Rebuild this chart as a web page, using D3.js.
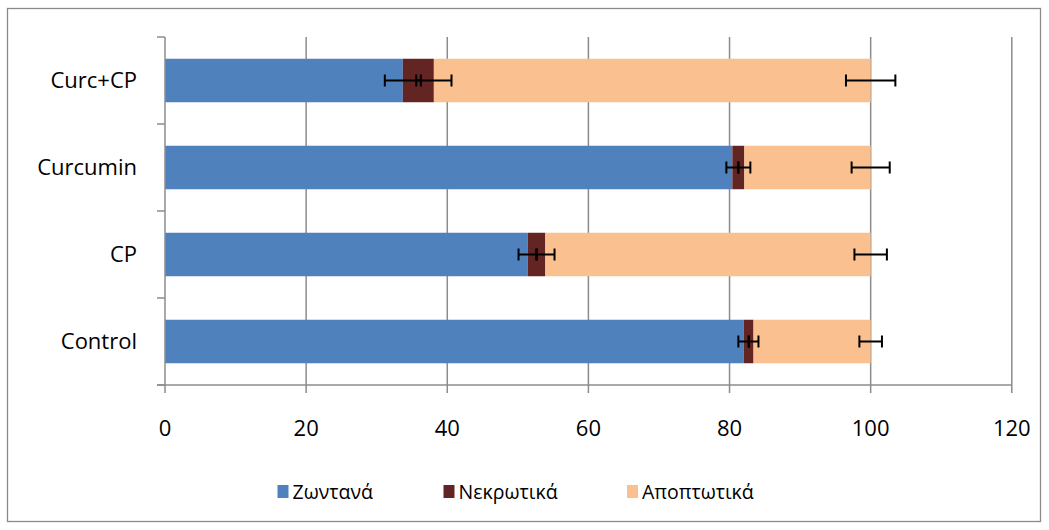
<!DOCTYPE html>
<html>
<head>
<meta charset="utf-8">
<script src="https://cdn.jsdelivr.net/npm/d3@7"></script>
<style>
  html, body { margin: 0; padding: 0; background: #fff; }
  svg { display: block; }
  text { font-family: "Open Sans", "Noto Sans", sans-serif; fill: #000; }
</style>
</head>
<body>
<svg id="chart" width="1049" height="530"></svg>
<script>
// Treatment groups, bottom to top
const categories = ["Control", "CP", "Curcumin", "Curc+CP"];
const seriesNames = ["Ζωντανά", "Νεκρωτικά", "Αποπτωτικά"];
const seriesColors = ["#4F81BD", "#632523", "#FAC090"];

// Percentages of cells per group
const live      = [82.0, 51.4, 80.4, 33.7];
const necrotic  = [1.4,  2.5,  1.7,  4.4];
const apoptotic = [16.6, 46.1, 17.9, 61.9];

// Standard deviations
const liveErr      = [0.75, 1.3, 0.85, 2.55];
const necroticErr  = [0.7,  1.3, 0.85, 2.5];
const apoptoticErr = [1.6,  2.3, 2.7,  3.5];

const xTicks = [0, 20, 40, 60, 80, 100, 120];

const svg = d3.select("#chart");

// chart area frame
svg.append("rect")
  .attr("x", 7.5).attr("y", 8.5)
  .attr("width", 1033).attr("height", 513)
  .attr("fill", "#fff").attr("stroke", "#8a8a8a").attr("stroke-width", 1.3);

const plot = { left: 165, right: 1011.8, top: 37, bottom: 385 };

const x = d3.scaleLinear().domain([0, 120]).range([plot.left, plot.right]);
const y = d3.scaleBand().domain(categories.slice().reverse())
  .range([plot.top, plot.bottom]).paddingInner(0.5).paddingOuter(0.25);
const yBand = d3.scaleBand().domain(categories.slice().reverse())
  .range([plot.top, plot.bottom]);

// vertical gridlines
svg.append("g").selectAll("line")
  .data(xTicks.filter(d => d > 0))
  .join("line")
  .attr("x1", d => x(d)).attr("x2", d => x(d))
  .attr("y1", plot.top).attr("y2", plot.bottom)
  .attr("stroke", "#8c8c8c").attr("stroke-width", 1.5);

// stacked data
const rows = categories.map((c, i) => ({
  cat: c,
  vals: [live[i], necrotic[i], apoptotic[i]],
  errs: [liveErr[i], necroticErr[i], apoptoticErr[i]]
}));
const keys = [0, 1, 2];
const stack = d3.stack().keys(keys).value((d, k) => d.vals[k]);
const stacked = stack(rows);

const bars = svg.append("g");
stacked.forEach((layer, k) => {
  bars.selectAll(null)
    .data(layer)
    .join("rect")
    .attr("x", d => x(d[0]))
    .attr("y", d => y(d.data.cat))
    .attr("width", d => x(d[1]) - x(d[0]))
    .attr("height", y.bandwidth())
    .attr("fill", seriesColors[k]);
});

// error bars at the end of each segment
const errG = svg.append("g").attr("stroke", "#000").attr("stroke-width", 2).attr("fill", "none");
stacked.forEach((layer, k) => {
  layer.forEach(d => {
    const cy = y(d.data.cat) + y.bandwidth() / 2;
    const e = d.data.errs[k];
    const lo = x(d[1] - e), hi = x(d[1] + e);
    errG.append("line").attr("x1", lo).attr("x2", hi).attr("y1", cy).attr("y2", cy);
    errG.append("line").attr("x1", lo).attr("x2", lo).attr("y1", cy - 6).attr("y2", cy + 6);
    errG.append("line").attr("x1", hi).attr("x2", hi).attr("y1", cy - 6).attr("y2", cy + 6);
  });
});

// category axis
const yAxis = svg.append("g").attr("stroke", "#8c8c8c").attr("stroke-width", 1.5);
yAxis.append("line").attr("x1", plot.left).attr("x2", plot.left)
  .attr("y1", plot.top).attr("y2", plot.bottom);
const boundaries = categories.map(c => yBand(c)).concat([plot.bottom]);
yAxis.selectAll(null).data(boundaries).join("line")
  .attr("x1", plot.left - 8).attr("x2", plot.left)
  .attr("y1", d => d).attr("y2", d => d);

svg.append("g").selectAll("text")
  .data(categories)
  .join("text")
  .attr("x", 137)
  .attr("y", d => yBand(d) + yBand.bandwidth() / 2)
  .attr("dy", "0.35em")
  .attr("text-anchor", "end")
  .style("font-size", "22px")
  .text(d => d);

// value axis
const xAxis = svg.append("g").attr("stroke", "#8c8c8c").attr("stroke-width", 1.5);
xAxis.append("line").attr("x1", plot.left - 8).attr("x2", plot.right)
  .attr("y1", plot.bottom).attr("y2", plot.bottom);
xAxis.selectAll(null).data(xTicks).join("line")
  .attr("x1", d => x(d)).attr("x2", d => x(d))
  .attr("y1", plot.bottom).attr("y2", plot.bottom + 8);

svg.append("g").selectAll("text")
  .data(xTicks)
  .join("text")
  .attr("x", d => x(d))
  .attr("y", 436)
  .attr("text-anchor", "middle")
  .style("font-size", "22px")
  .text(d => d);

// legend
const legendX = [277.5, 443.5, 627];
const legend = svg.append("g");
seriesNames.forEach((name, k) => {
  legend.append("rect")
    .attr("x", legendX[k]).attr("y", 485)
    .attr("width", 11).attr("height", 13)
    .attr("fill", seriesColors[k]);
  legend.append("text")
    .attr("x", legendX[k] + 15).attr("y", 498.5)
    .style("font-size", "19.5px")
    .text(name);
});
</script>
</body>
</html>
